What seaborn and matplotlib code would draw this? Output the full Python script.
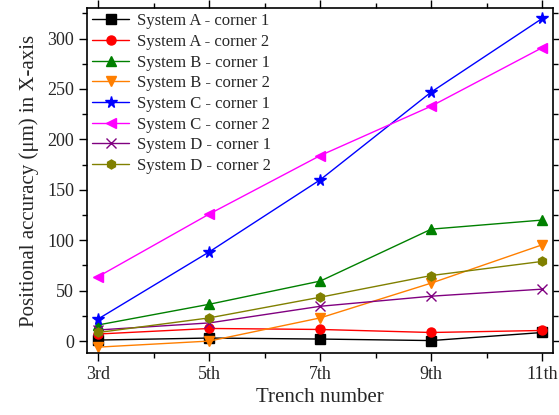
import pandas as pd
import seaborn as sns
import matplotlib.pyplot as plt
from matplotlib.ticker import MultipleLocator

trench = [3, 5, 7, 9, 11]
trench_labels = ["3rd", "5th", "7th", "9th", "11th"]

sys_a_c1 = [1, 3, 2, 0.5, 8.5]
sys_a_c2 = [7, 12.5, 11.5, 8.5, 10.5]
sys_b_c1 = [16, 36.5, 59.5, 111, 120]
sys_b_c2 = [-6, 0, 23, 57.5, 95.5]
sys_c_c1 = [22, 88.5, 160, 247, 320]
sys_c_c2 = [64, 126, 184, 233, 291]
sys_d_c1 = [11, 18, 34.5, 44.5, 51.5]
sys_d_c2 = [8.5, 23, 43.5, 65, 79]

series = [
    ("System A - corner 1", sys_a_c1, "black", "s"),
    ("System A - corner 2", sys_a_c2, "red", "o"),
    ("System B - corner 1", sys_b_c1, "green", "^"),
    ("System B - corner 2", sys_b_c2, "#FF7F00", "v"),
    ("System C - corner 1", sys_c_c1, "blue", "*"),
    ("System C - corner 2", sys_c_c2, "magenta", "<"),
    ("System D - corner 1", sys_d_c1, "purple", "x"),
    ("System D - corner 2", sys_d_c2, "olive", "h"),
]

sns.set_style("ticks")
plt.rcParams["font.family"] = ["Liberation Serif", "DejaVu Serif"]

fig = plt.figure(figsize=(5.59, 4.15), dpi=100)
ax = fig.add_axes([0.156, 0.149, 0.834, 0.831])

for name, vals, color, mk in series:
    df = pd.DataFrame({"trench": trench, "acc": vals})
    size = 8.5 if mk == "*" else 6.5
    sns.lineplot(data=df, x="trench", y="acc", ax=ax, color=color, marker=mk,
                 markersize=size, markeredgecolor=color, markeredgewidth=1,
                 linewidth=1, label=name)

ax.set_xlim(2.8, 11.2)
ax.set_ylim(-12, 330)
ax.set_xticks(trench)
ax.set_xticklabels(trench_labels)
ax.xaxis.set_minor_locator(MultipleLocator(1))
ax.yaxis.set_major_locator(MultipleLocator(50))
ax.yaxis.set_minor_locator(MultipleLocator(25))
ax.tick_params(which="both", direction="out", top=True, right=True,
               labelsize=13, color="black", width=1)
ax.tick_params(which="major", length=6)
ax.tick_params(which="minor", length=3.5)
for s in ax.spines.values():
    s.set_linewidth(1.2)
    s.set_color("black")

ax.set_xlabel("Trench number", fontsize=15, labelpad=3)
ax.set_ylabel("Positional accuracy (\u03bcm) in X-axis", fontsize=15, labelpad=6)

ax.legend(loc="upper left", frameon=False, fontsize=12, handlelength=2.2,
          borderaxespad=0.1, labelspacing=0.28, handletextpad=0.5,
          borderpad=0.2)

fig.savefig("out.png", dpi=100)
